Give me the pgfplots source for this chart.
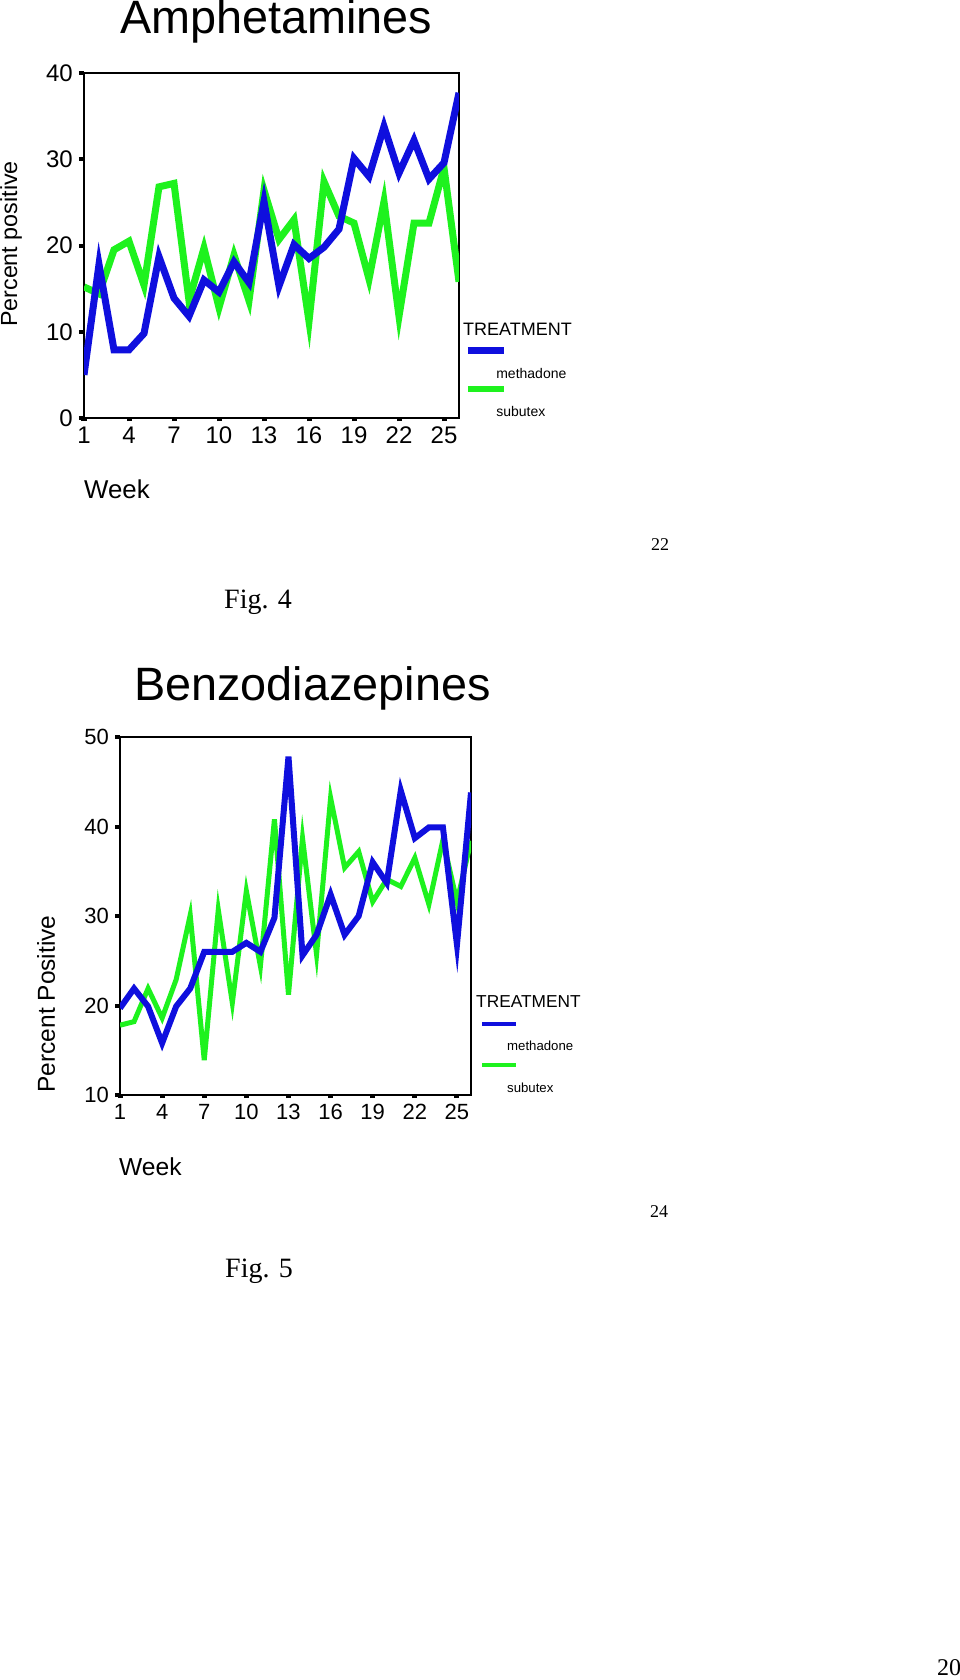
\documentclass[border=0pt]{standalone}
\usepackage{pgfplots}
\pgfplotsset{compat=1.18}
\usepackage{fontspec}
\setmainfont{Liberation Sans}
\newfontfamily\timesfont{Liberation Serif}

\definecolor{methblue}{RGB}{15,15,222}
\definecolor{subgreen}{RGB}{30,242,30}
\newcommand{\fs}[1]{\fontsize{#1}{#1}\selectfont}

\pgfplotsset{
  spss/.style={
    scale only axis,
    axis line style={line width=1.5pt, black},
    xmin=1, xmax=26,
    xtick={1,4,...,25},
    tick pos=left,
    tick align=outside,
    major tick length=5pt,
    ytick style={line width=4pt, black},
    xtick style={line width=5pt, black, dash pattern=on 0pt off 2pt on 2pt off 4pt},
    /pgf/number format/assume math mode=true,
    yticklabel style={inner sep=0pt, anchor=east, xshift=-6pt},
    xticklabel style={inner sep=0pt, anchor=north, yshift=-4pt},
    legend cell align=left,
    reverse legend,
    legend style={draw=none, fill=none, inner sep=0pt, outer sep=0pt,
      nodes={inner sep=0pt}, column sep=0pt},
  },
}

\begin{document}
\begin{tikzpicture}
\useasboundingbox (0pt,0pt) rectangle (960pt,-1680pt);
\fill[white] (0pt,0pt) rectangle (960pt,-1680pt);

% ---------- Fig. 4 : Amphetamines ----------
\node[anchor=base west, inner sep=0pt, font=\fs{46.8}] at (120pt,-34pt) {Amphetamines};
\begin{axis}[spss,
  at={(84pt,-418pt)}, anchor=south west,
  width=375pt, height=345pt,
  ymin=0, ymax=40, ytick={0,10,...,40},
  ticklabel style={font=\fs{24}},
  legend style={at={(1.0235,0.1452)}, anchor=north west, font=\fs{14}, row sep=26.8pt},
  legend image code/.code={\draw[#1, line width=6.5pt, overlay] (0pt,23pt) -- (36pt,23pt);
    \path[draw=none] (0pt,0pt) -- (28.5pt,0pt);},
]
\addplot[subgreen, line width=7pt] coordinates {
  (1,15.2)(2,14.4)(3,19.5)(4,20.5)(5,15.4)(6,26.8)(7,27.2)(8,13.6)(9,19.7)(10,12.8)
  (11,18.9)(12,13.6)(13,26.4)(14,20.7)(15,23.0)(16,11.2)(17,27.4)(18,23.4)(19,22.6)
  (20,16.1)(21,25.1)(22,11.8)(23,22.6)(24,22.6)(25,29.0)(26,15.8)};
\addlegendentry{subutex}
\addplot[methblue, line width=7pt] coordinates {
  (1,5.0)(2,17.8)(3,7.9)(4,7.9)(5,9.8)(6,18.7)(7,13.9)(8,11.8)(9,16.0)(10,14.6)
  (11,18.1)(12,15.7)(13,25.1)(14,15.3)(15,20.1)(16,18.5)(17,19.8)(18,21.9)(19,30.1)
  (20,28.0)(21,33.8)(22,28.4)(23,32.2)(24,27.7)(25,29.6)(26,37.7)};
\addlegendentry{methadone}
\end{axis}
\node[rotate=90, inner sep=0pt, font=\fs{23.3}] at (11pt,-244pt) {Percent positive};
\node[anchor=west, inner sep=0pt, font=\fs{18}] at (463pt,-329pt) {TREATMENT};
\node[anchor=base west, inner sep=0pt, font=\fs{25.8}] at (84pt,-498pt) {Week};
\node[inner sep=0pt, font=\timesfont\fs{18}] at (660pt,-545pt) {22};
\node[anchor=base west, inner sep=0pt, font=\timesfont\fs{28}] at (224pt,-608pt) {Fig. 4};

% ---------- Fig. 5 : Benzodiazepines ----------
\node[anchor=base west, inner sep=0pt, font=\fs{46.8}] at (134pt,-700pt) {Benzodiazepines};
\begin{axis}[spss,
  at={(120pt,-1095pt)}, anchor=south west,
  width=351pt, height=358pt,
  ymin=10, ymax=50, ytick={10,20,...,50},
  ticklabel style={font=\fs{22}},
  legend style={at={(1.0319,0.1503)}, anchor=north west, font=\fs{13.2}, row sep=30.4pt},
  legend image code/.code={\draw[#1, line width=4pt, overlay] (0pt,23pt) -- (34pt,23pt);
    \path[draw=none] (0pt,0pt) -- (25pt,0pt);},
]
\addplot[subgreen, line width=5pt] coordinates {
  (1,17.8)(2,18.2)(3,21.9)(4,18.6)(5,22.9)(6,30.1)(7,13.9)(8,30.7)(9,20.3)(10,32.8)
  (11,24.4)(12,40.8)(13,21.2)(14,38.7)(15,25.7)(16,43.2)(17,35.4)(18,37.2)(19,31.6)
  (20,34.1)(21,33.3)(22,36.5)(23,31.3)(24,38.5)(25,31.6)(26,38.4)};
\addlegendentry{subutex}
\addplot[methblue, line width=6pt] coordinates {
  (1,19.7)(2,21.9)(3,19.9)(4,15.8)(5,19.9)(6,21.9)(7,26.0)(8,26.0)(9,26.0)(10,27.0)
  (11,26.0)(12,29.8)(13,47.8)(14,25.6)(15,27.9)(16,32.4)(17,27.9)(18,30.0)(19,36.0)
  (20,33.7)(21,44.0)(22,38.7)(23,39.9)(24,39.9)(25,26.8)(26,43.8)};
\addlegendentry{methadone}
\end{axis}
\node[rotate=90, inner sep=0pt, font=\fs{24.5}] at (46pt,-1004pt) {Percent Positive};
\node[anchor=west, inner sep=0pt, font=\fs{17.3}] at (476pt,-1002pt) {TREATMENT};
\node[anchor=base west, inner sep=0pt, font=\fs{24.6}] at (119pt,-1175pt) {Week};
\node[inner sep=0pt, font=\timesfont\fs{18}] at (659pt,-1212pt) {24};
\node[anchor=base west, inner sep=0pt, font=\timesfont\fs{28}] at (225pt,-1277pt) {Fig. 5};

\node[inner sep=0pt, font=\timesfont\fs{24}] at (949pt,-1668pt) {20};
\end{tikzpicture}
\end{document}
